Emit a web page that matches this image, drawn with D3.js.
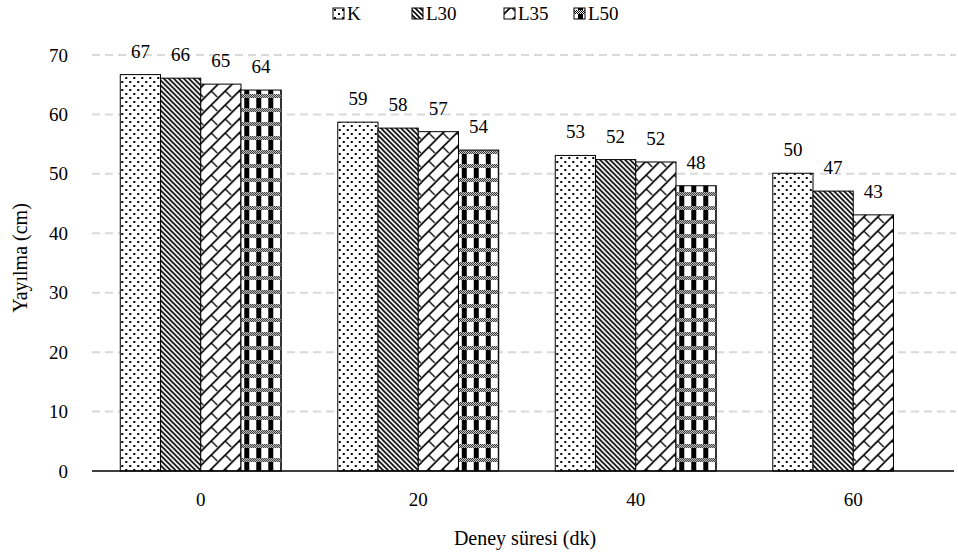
<!DOCTYPE html>
<html>
<head>
<meta charset="utf-8">
<script src="https://cdn.jsdelivr.net/npm/d3@7"></script>
<style>
  body { margin: 0; background: #fff; }
</style>
</head>
<body>
<div id="chart"></div>
<script>
// veriler
var categories = ["0", "20", "40", "60"];
var seriesNames = ["K", "L30", "L35", "L50"];
var valK   = [66.7, 58.7, 53.1, 50.1];
var valL30 = [66.1, 57.7, 52.4, 47.1];
var valL35 = [65.1, 57.1, 52.0, 43.1];
var valL50 = [64.1, 54.0, 48.0, null];
var labK   = ["67", "59", "53", "50"];
var labL30 = ["66", "58", "52", "47"];
var labL35 = ["65", "57", "52", "43"];
var labL50 = ["64", "54", "48", ""];
var yTicks = [0, 10, 20, 30, 40, 50, 60, 70];

var seriesVals = [valK, valL30, valL35, valL50];
var seriesLabs = [labK, labL30, labL35, labL50];

var FONT = "'Liberation Serif', Tinos, 'Times New Roman', Times, 'DejaVu Serif', serif";

var W = 958, H = 556;
var svg = d3.select("#chart").append("svg")
  .attr("width", W)
  .attr("height", H);

// desenler
var defs = svg.append("defs");

var pK = defs.append("pattern").attr("id", "pat0")
  .attr("patternUnits", "userSpaceOnUse").attr("width", 8).attr("height", 8);
pK.append("rect").attr("width", 8).attr("height", 8).attr("fill", "#fff");
pK.append("rect").attr("x", 1).attr("y", 1).attr("width", 2).attr("height", 2).attr("fill", "#000");
pK.append("rect").attr("x", 5).attr("y", 5).attr("width", 2).attr("height", 2).attr("fill", "#000");

var pL30 = defs.append("pattern").attr("id", "pat1")
  .attr("patternUnits", "userSpaceOnUse").attr("width", 5).attr("height", 5);
pL30.append("rect").attr("width", 5).attr("height", 5).attr("fill", "#fff");
pL30.append("path").attr("d", "M-1,-1 L6,6 M-1,4 L1,6 M4,-1 L6,1")
  .attr("stroke", "#000").attr("stroke-width", 1.6);

var pL35 = defs.append("pattern").attr("id", "pat2")
  .attr("patternUnits", "userSpaceOnUse").attr("width", 14).attr("height", 14);
pL35.append("rect").attr("width", 14).attr("height", 14).attr("fill", "#fff");
pL35.append("path").attr("d", "M-1,15 L15,-1 M-1,1 L1,-1 M13,15 L15,13")
  .attr("stroke", "#000").attr("stroke-width", 1.6);
pL35.append("path").attr("d", "M7,7 L13,13")
  .attr("stroke", "#000").attr("stroke-width", 1.3);

var pL50 = defs.append("pattern").attr("id", "pat3")
  .attr("patternUnits", "userSpaceOnUse").attr("width", 12).attr("height", 14);
pL50.append("rect").attr("width", 12).attr("height", 14).attr("fill", "#fff");
pL50.append("rect").attr("x", 4).attr("y", 0).attr("width", 5).attr("height", 10).attr("fill", "#000");
[0, 2, 4, 6, 8, 10].forEach(function(cx) {
  pL50.append("rect").attr("x", cx).attr("y", 10).attr("width", 1).attr("height", 1).attr("fill", "#000");
  pL50.append("rect").attr("x", cx + 1).attr("y", 11).attr("width", 1).attr("height", 1).attr("fill", "#000");
  pL50.append("rect").attr("x", cx).attr("y", 12).attr("width", 1).attr("height", 1).attr("fill", "#000");
  pL50.append("rect").attr("x", cx + 1).attr("y", 13).attr("width", 1).attr("height", 1).attr("fill", "#000");
});

// ölçekler
var x0 = d3.scaleBand().domain(categories).range([92, 962])
  .paddingInner(0.26).paddingOuter(0.13);
var x1 = d3.scaleBand().domain(seriesNames).range([0, x0.bandwidth()]);
var y = d3.scaleLinear().domain([0, 70]).range([471, 55]);

// ızgara çizgileri
svg.append("g").selectAll("line")
  .data(yTicks.filter(function(d) { return d > 0; }))
  .enter().append("line")
  .attr("x1", 92).attr("x2", 956)
  .attr("y1", function(d) { return y(d); })
  .attr("y2", function(d) { return y(d); })
  .attr("stroke", "#d9d9d9")
  .attr("stroke-width", 2)
  .attr("stroke-dasharray", "8,5");

// Y ekseni
var yAxis = svg.append("g")
  .attr("transform", "translate(92,0)")
  .call(d3.axisLeft(y).tickValues(yTicks).tickSize(0).tickPadding(24));
yAxis.select(".domain").remove();
yAxis.selectAll("text")
  .style("font-size", "19px")
  .style("font-family", FONT)
  .attr("fill", "#000");

// çubuklar
var groups = svg.append("g").selectAll("g")
  .data(categories)
  .enter().append("g")
  .attr("transform", function(d) { return "translate(" + x0(d) + ",0)"; });

function rows(d, i) {
  return seriesNames.map(function(s, j) {
    return { s: s, j: j, v: seriesVals[j][i], lab: seriesLabs[j][i] };
  }).filter(function(o) { return o.v != null; });
}

groups.selectAll("rect")
  .data(rows)
  .enter().append("rect")
  .attr("x", function(d) { return x1(d.s); })
  .attr("y", function(d) { return y(d.v); })
  .attr("width", x1.bandwidth())
  .attr("height", function(d) { return y(0) - y(d.v); })
  .attr("fill", function(d) { return "url(#pat" + d.j + ")"; })
  .attr("stroke", "#000")
  .attr("stroke-width", 1);

groups.selectAll("text.val")
  .data(rows)
  .enter().append("text")
  .attr("class", "val")
  .attr("x", function(d) { return x1(d.s) + x1.bandwidth() / 2; })
  .attr("y", function(d) { return y(d.v) - 17; })
  .attr("text-anchor", "middle")
  .style("font-size", "19px")
  .style("font-family", FONT)
  .text(function(d) { return d.lab; });

// X ekseni
var xAxis = svg.append("g")
  .attr("transform", "translate(0," + y(0) + ")")
  .call(d3.axisBottom(x0).tickSize(0).tickPadding(22));
xAxis.select(".domain").remove();
xAxis.selectAll("text")
  .style("font-size", "19px")
  .style("font-family", FONT)
  .attr("fill", "#000");
svg.append("line")
  .attr("x1", 92).attr("x2", 954)
  .attr("y1", y(0)).attr("y2", y(0))
  .attr("stroke", "#000").attr("stroke-width", 1.5);

// eksen başlıkları
svg.append("text")
  .attr("transform", "translate(27,258) rotate(-90)")
  .attr("text-anchor", "middle")
  .style("font-size", "20px")
  .style("font-family", FONT)
  .text("Yayılma (cm)");

svg.append("text")
  .attr("x", 525).attr("y", 545)
  .attr("text-anchor", "middle")
  .style("font-size", "20px")
  .style("font-family", FONT)
  .text("Deney süresi (dk)");

// lejant
var legX = [333, 412, 504, 574];
var leg = svg.append("g").selectAll("g")
  .data(seriesNames)
  .enter().append("g")
  .attr("transform", function(d, i) { return "translate(" + legX[i] + ",0)"; });
leg.append("rect")
  .attr("x", 0).attr("y", 8)
  .attr("width", 11).attr("height", 11)
  .attr("fill", function(d, i) { return "url(#pat" + i + ")"; })
  .attr("stroke", "#000").attr("stroke-width", 1);
leg.append("text")
  .attr("x", 14).attr("y", 20)
  .style("font-size", "19px")
  .style("font-family", FONT)
  .text(function(d) { return d; });
</script>
</body>
</html>
